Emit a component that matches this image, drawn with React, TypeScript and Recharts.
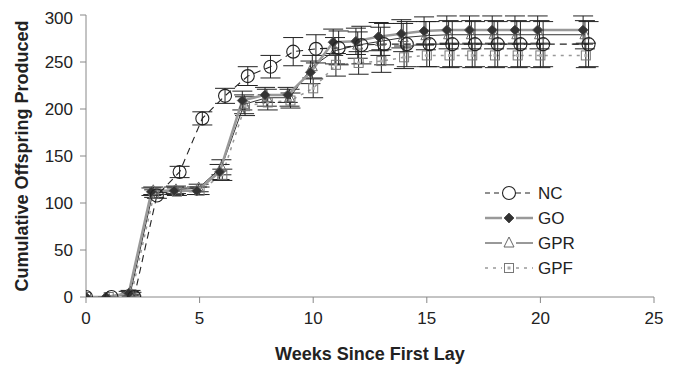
import React from 'react';
import { ComposedChart, Line, XAxis, YAxis, ErrorBar } from 'recharts';

// weeks since first lay (each group sampled slightly offset)
const weeks = [0, 1, 2, 3, 4, 5, 6, 7, 8, 9, 10, 11, 12, 13, 14, 15, 16, 17, 18, 19, 20, 22];
const ncX = weeks.map((w) => (w === 0 ? 0 : w + 0.12));
const goX = weeks.map((w) => (w === 0 ? 0 : w - 0.12));
const gprX = weeks.map((w) => (w === 0 ? 0 : w - 0.04));
const gpfX = weeks;

const ncY = [0, 0, 0, 108, 133, 190, 214, 235, 245, 261, 264, 265, 268, 269, 269, 269, 269, 269, 269, 269, 269, 269];
const ncErr = [0, 0, 0, 3, 6, 7, 8, 10, 12, 15, 15, 18, 20, 22, 24, 24, 24, 24, 24, 24, 24, 24];

const goY = [0, 0, 4, 112, 113, 113, 133, 209, 215, 215, 239, 271, 272, 277, 280, 283, 284, 284, 284, 284, 284, 284];
const goErr = [0, 0, 2, 4, 4, 4, 8, 10, 8, 8, 12, 14, 14, 15, 15, 15, 15, 15, 15, 15, 15, 15];

const gprY = [0, 0, 5, 113, 114, 116, 138, 205, 212, 212, 245, 262, 268, 272, 276, 278, 279, 279, 279, 279, 279, 279];
const gprErr = [0, 0, 2, 4, 4, 4, 8, 10, 9, 9, 12, 14, 14, 15, 15, 15, 15, 15, 15, 15, 15, 15];

const gpfY = [0, 0, 3, 110, 112, 113, 130, 203, 207, 209, 222, 247, 249, 251, 255, 257, 257, 257, 257, 257, 257, 257];
const gpfErr = [0, 0, 2, 4, 4, 4, 6, 10, 8, 8, 10, 12, 12, 12, 12, 12, 13, 13, 13, 13, 13, 13];

const xTicks = [0, 5, 10, 15, 20, 25];
const yTicks = [0, 50, 100, 150, 200, 250, 300];

const build = (xs: number[], ys: number[], es: number[]) =>
  xs.map((x, i) => ({ x, y: ys[i], err: es[i] }));

const ncData = build(ncX, ncY, ncErr);
const goData = build(goX, goY, goErr);
const gprData = build(gprX, gprY, gprErr);
const gpfData = build(gpfX, gpfY, gpfErr);

const FONT = '"Liberation Sans", Arial, sans-serif';

const Circle = ({ cx, cy }: any) => (
  <circle cx={cx} cy={cy} r={6.5} fill="none" stroke="#222" strokeWidth={1.1} />
);
const Diamond = ({ cx, cy }: any) => (
  <path d={`M${cx},${cy - 5}L${cx + 5},${cy}L${cx},${cy + 5}L${cx - 5},${cy}Z`} fill="#333" stroke="#555" strokeWidth={1} />
);
const Triangle = ({ cx, cy }: any) => (
  <path d={`M${cx},${cy - 6}L${cx + 5},${cy + 4}L${cx - 5},${cy + 4}Z`} fill="none" stroke="#666" strokeWidth={1} />
);
const Square = ({ cx, cy }: any) => (
  <g>
    <rect x={cx - 4.5} y={cy - 4.5} width={9} height={9} fill="none" stroke="#777" strokeWidth={1} />
    <rect x={cx - 1.5} y={cy - 1.5} width={3} height={3} fill="#aaa" />
  </g>
);

const dot = (Shape: any) => (p: any) => <Shape key={`d-${p.index}`} cx={p.cx} cy={p.cy} />;

const legendRows = [
  { name: 'NC', stroke: '#222', dash: '5 4', width: 1.1, Shape: Circle },
  { name: 'GO', stroke: '#999', dash: undefined, width: 2.5, Shape: Diamond },
  { name: 'GPR', stroke: '#333', dash: undefined, width: 1, Shape: Triangle },
  { name: 'GPF', stroke: '#999', dash: '3 5', width: 1.5, Shape: Square },
];

const MyLegend = () => (
  <svg width={130} height={110} style={{ position: 'absolute', left: 470, top: 170 }}>
    {legendRows.map((r, i) => {
      const y = 15 + i * 25;
      return (
        <g key={r.name}>
          <line x1={7} x2={24} y1={y} y2={y} stroke={r.stroke} strokeWidth={r.width} strokeDasharray={r.dash} />
          <line x1={38} x2={55} y1={y} y2={y} stroke={r.stroke} strokeWidth={r.width} strokeDasharray={r.dash} />
          <r.Shape cx={31} cy={y} />
          <text x={60} y={y} dy="0.35em" fontSize={17} fontFamily={FONT} fill="#222">{r.name}</text>
        </g>
      );
    })}
  </svg>
);

const YTitle = ({ viewBox }: any) => {
  const cy = viewBox.y + viewBox.height / 2;
  return (
    <text x={14} y={cy} transform={`rotate(-90, 14, ${cy})`} textAnchor="middle" dominantBaseline="central"
      fontSize={18} fontWeight="bold" fontFamily={FONT} fill="#222">
      Cumulative Offspring Produced
    </text>
  );
};

const XTitle = ({ viewBox }: any) => {
  const cx = viewBox.x + viewBox.width / 2;
  return (
    <text x={cx} y={346} textAnchor="middle" dominantBaseline="central"
      fontSize={18} fontWeight="bold" fontFamily={FONT} fill="#222">
      Weeks Since First Lay
    </text>
  );
};

const tickStyle = { fontSize: 17, fontFamily: FONT, fill: '#222' };

export default function App() {
  return (
    <div style={{ position: 'relative', width: 663, height: 357 }}>
      <ComposedChart width={663} height={357} margin={{ top: 7, right: 17, bottom: 0, left: 30 }}>
        <XAxis type="number" dataKey="x" domain={[0, 25]} ticks={xTicks} allowDataOverflow
          stroke="#888" tick={tickStyle} tickLine={{ stroke: '#888' }} tickSize={6} tickMargin={9}
          height={68} label={<XTitle />} />
        <YAxis type="number" domain={[0, 300]} ticks={yTicks} allowDataOverflow
          stroke="#888" tick={tickStyle} tickLine={{ stroke: '#888' }} tickSize={6} tickMargin={7}
          width={48} label={<YTitle />} />
        <Line data={gpfData} dataKey="y" stroke="#999" strokeWidth={1.5} strokeDasharray="3 5"
          dot={dot(Square)} activeDot={false} isAnimationActive={false}>
          <ErrorBar dataKey="err" direction="y" width={10} stroke="#222" strokeWidth={1} />
        </Line>
        <Line data={gprData} dataKey="y" stroke="#333" strokeWidth={1}
          dot={dot(Triangle)} activeDot={false} isAnimationActive={false}>
          <ErrorBar dataKey="err" direction="y" width={10} stroke="#222" strokeWidth={1} />
        </Line>
        <Line data={goData} dataKey="y" stroke="#999" strokeWidth={2.5}
          dot={dot(Diamond)} activeDot={false} isAnimationActive={false}>
          <ErrorBar dataKey="err" direction="y" width={10} stroke="#222" strokeWidth={1} />
        </Line>
        <Line data={ncData} dataKey="y" stroke="#222" strokeWidth={1.1} strokeDasharray="7 5"
          dot={dot(Circle)} activeDot={false} isAnimationActive={false}>
          <ErrorBar dataKey="err" direction="y" width={10} stroke="#222" strokeWidth={1} />
        </Line>
      </ComposedChart>
      <MyLegend />
    </div>
  );
}
